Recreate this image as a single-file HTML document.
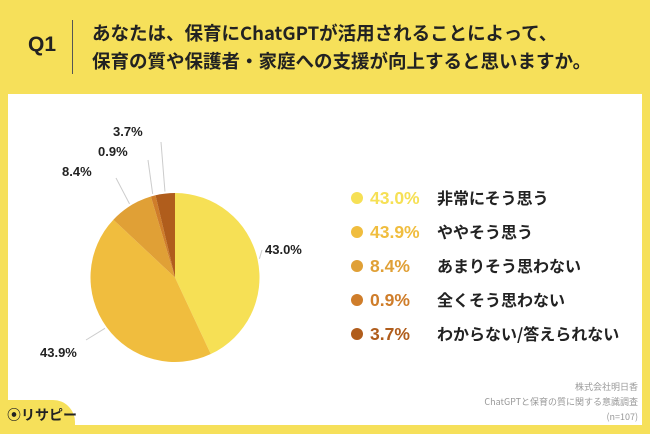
<!DOCTYPE html>
<html><head><meta charset="utf-8">
<style>
body{margin:0;width:650px;height:434px;background:#f6e05a;position:relative;overflow:hidden;font-family:"Liberation Sans","Noto Sans CJK JP",sans-serif;}
.panel{position:absolute;left:8px;top:94px;width:634px;height:331px;background:#fff;}
.tab{position:absolute;left:0;top:400px;width:75px;height:34px;background:#f6e05a;border-top-right-radius:22px;}
.q{position:absolute;left:28px;top:33px;font-size:21px;font-weight:bold;color:#222;}
.sep{position:absolute;left:72px;top:20px;width:1px;height:54px;background:#555;}
.title{position:absolute;left:92px;top:19px;font-size:18.5px;font-weight:bold;color:#222;line-height:28px;font-family:"Noto Sans CJK JP",sans-serif;white-space:nowrap;}
.src{position:absolute;right:12px;top:380px;}
.src div{position:absolute;right:0;white-space:nowrap;font-size:9px;color:#999;font-family:"Noto Sans CJK JP",sans-serif;}
.logo{position:absolute;left:7px;top:405px;font-size:14px;font-weight:bold;color:#222;font-family:"Noto Sans CJK JP",sans-serif;}
</style></head><body>
<div class="panel"></div>
<div class="tab"></div>
<div class="q">Q1</div>
<div class="sep"></div>
<div class="title">あなたは、保育にChatGPTが活用されることによって、<br>保育の質や保護者・家庭への支援が向上すると思いますか。</div>
<div class="src">
<div style="top:0">株式会社明日香</div>
<div style="top:15px">ChatGPTと保育の質に関する意識調査</div>
<div style="top:30px">(n=107)</div>
</div>
<div class="logo">⦿リサピー</div>
<svg id="chart" width="650" height="434" style="position:absolute;left:0;top:0"></svg>
<script>
const categories=["非常にそう思う","ややそう思う","あまりそう思わない","全くそう思わない","わからない/答えられない"];
const values=[43.0,43.9,8.4,0.9,3.7];
const labels=["43.0%","43.9%","8.4%","0.9%","3.7%"];
const colors=["#f6e055","#f0bd3e","#e0a036","#cf7d2a","#b05d1c"];
const pieLabelPos=[[265,254],[40,357],[62,176],[98,156],[113,136]];
const leaderEnd=[[262,250],[86,340],[116,178],[148,160],[161,142]];
const NS="http://www.w3.org/2000/svg";
const svg=document.getElementById('chart');
const cx=175,cy=277.5,r=84.5;
const total=values.reduce((a,b)=>a+b,0);
function pt(a,rr){return [cx+rr*Math.sin(a),cy-rr*Math.cos(a)];}
let a0=0;
values.forEach((v,i)=>{
 const a1=a0+v/total*2*Math.PI;
 const p0=pt(a0,r),p1=pt(a1,r);
 const large=(a1-a0)>Math.PI?1:0;
 const path=document.createElementNS(NS,'path');
 path.setAttribute('d',`M${cx},${cy}L${p0[0]},${p0[1]}A${r},${r} 0 ${large} 1 ${p1[0]},${p1[1]}Z`);
 path.setAttribute('fill',colors[i]);
 
 
 svg.appendChild(path);
 const am=(a0+a1)/2;
 const e=pt(am,r+2);
 const le=leaderEnd[i];
 const ln=document.createElementNS(NS,'line');
 ln.setAttribute('x1',e[0]);ln.setAttribute('y1',e[1]);ln.setAttribute('x2',le[0]);ln.setAttribute('y2',le[1]);
 ln.setAttribute('stroke','#ccc');ln.setAttribute('stroke-width','1');
 
 
 svg.appendChild(ln);
 const lp=pieLabelPos[i];
 const t=document.createElementNS(NS,'text');
 t.setAttribute('x',lp[0]);t.setAttribute('y',lp[1]);
 t.setAttribute('font-size','13');t.setAttribute('font-weight','bold');t.setAttribute('fill','#222');
 t.textContent=labels[i];
 
 
 svg.appendChild(t);
 a0=a1;
});
const legTop=198,legStep=34;
categories.forEach((c,i)=>{
 const y=legTop+i*legStep;
 const d=document.createElementNS(NS,'circle');
 d.setAttribute('cx',357);d.setAttribute('cy',y);d.setAttribute('r',6);d.setAttribute('fill',colors[i]);
 
 
 svg.appendChild(d);
 const p=document.createElementNS(NS,'text');
 p.setAttribute('x',370);p.setAttribute('y',y+6);p.setAttribute('font-size','17.5');p.setAttribute('font-weight','bold');
 p.setAttribute('fill',colors[i]);p.textContent=labels[i];
 
 
 svg.appendChild(p);
 const l=document.createElementNS(NS,'text');
 l.setAttribute('x',437);l.setAttribute('y',y+6);l.setAttribute('font-size','16');l.setAttribute('font-weight','bold');
 l.setAttribute('fill','#222');l.setAttribute('font-family','"Noto Sans CJK JP",sans-serif');l.textContent=c;
 
 
 svg.appendChild(l);
});
</script>
</body></html>
